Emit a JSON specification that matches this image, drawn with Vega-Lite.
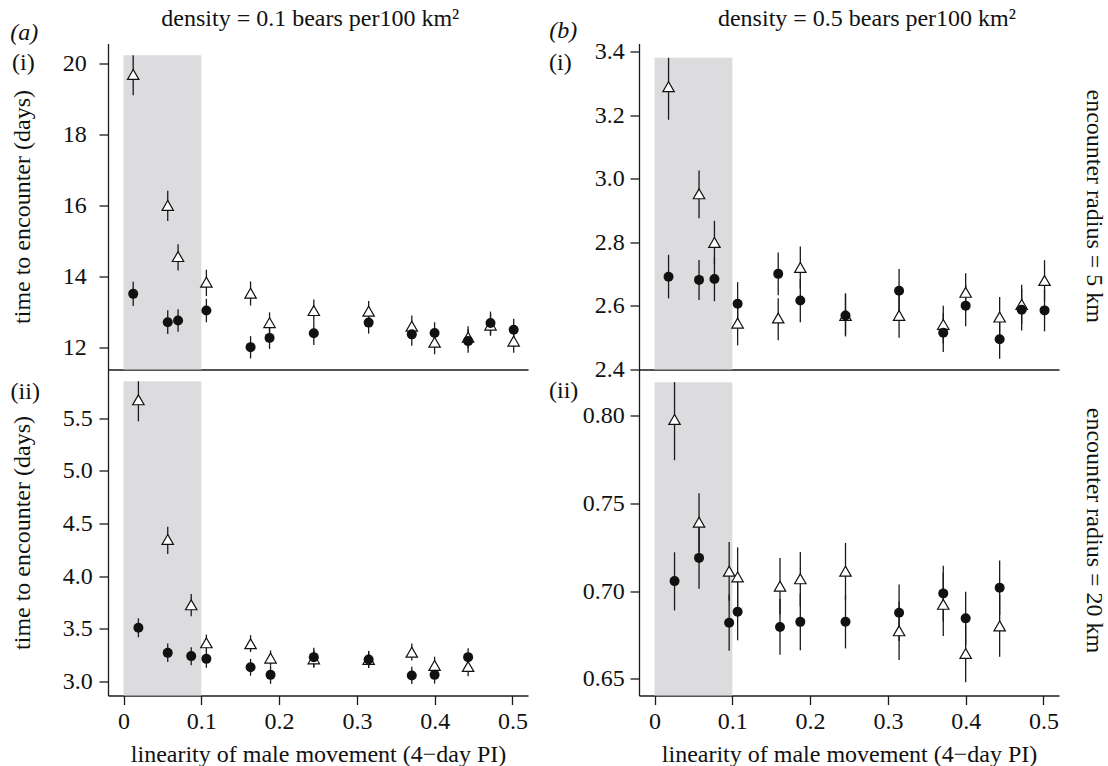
{
  "$schema": "https://vega.github.io/schema/vega-lite/v6.json",
  "padding": {"left": 10, "top": 6.5, "right": 5, "bottom": 5},
  "background": "white",
  "columns": 2,
  "spacing": {"row": 0, "column": 111},
  "bounds": "flush",
  "datasets": {
    "obs": [
      {"p":"ai","x":0.0124,"t":"T","y":19.68,"lo":19.09,"hi":20.22},
      {"p":"ai","x":0.0124,"t":"C","y":13.50,"lo":13.16,"hi":13.84},
      {"p":"ai","x":0.0568,"t":"T","y":15.99,"lo":15.55,"hi":16.40},
      {"p":"ai","x":0.0568,"t":"C","y":12.70,"lo":12.37,"hi":13.04},
      {"p":"ai","x":0.0701,"t":"T","y":14.55,"lo":14.16,"hi":14.90},
      {"p":"ai","x":0.0701,"t":"C","y":12.75,"lo":12.43,"hi":13.07},
      {"p":"ai","x":0.1065,"t":"T","y":13.83,"lo":13.44,"hi":14.18},
      {"p":"ai","x":0.1065,"t":"C","y":13.03,"lo":12.70,"hi":13.36},
      {"p":"ai","x":0.1633,"t":"T","y":13.52,"lo":13.17,"hi":13.85},
      {"p":"ai","x":0.1633,"t":"C","y":12.00,"lo":11.68,"hi":12.31},
      {"p":"ai","x":0.1877,"t":"T","y":12.69,"lo":12.40,"hi":12.98},
      {"p":"ai","x":0.1877,"t":"C","y":12.26,"lo":11.95,"hi":12.57},
      {"p":"ai","x":0.2446,"t":"T","y":13.03,"lo":12.72,"hi":13.34},
      {"p":"ai","x":0.2446,"t":"C","y":12.39,"lo":12.06,"hi":12.72},
      {"p":"ai","x":0.3151,"t":"T","y":13.01,"lo":12.72,"hi":13.30},
      {"p":"ai","x":0.3151,"t":"C","y":12.69,"lo":12.38,"hi":13.00},
      {"p":"ai","x":0.3706,"t":"T","y":12.59,"lo":12.29,"hi":12.89},
      {"p":"ai","x":0.3706,"t":"C","y":12.36,"lo":12.04,"hi":12.68},
      {"p":"ai","x":0.3999,"t":"T","y":12.14,"lo":11.80,"hi":12.47},
      {"p":"ai","x":0.3999,"t":"C","y":12.40,"lo":12.10,"hi":12.70},
      {"p":"ai","x":0.4430,"t":"T","y":12.28,"lo":11.97,"hi":12.59},
      {"p":"ai","x":0.4430,"t":"C","y":12.17,"lo":11.84,"hi":12.50},
      {"p":"ai","x":0.4718,"t":"T","y":12.62,"lo":12.32,"hi":12.92},
      {"p":"ai","x":0.4718,"t":"C","y":12.68,"lo":12.35,"hi":13.00},
      {"p":"ai","x":0.5016,"t":"T","y":12.17,"lo":11.84,"hi":12.50},
      {"p":"ai","x":0.5016,"t":"C","y":12.49,"lo":12.18,"hi":12.80},

      {"p":"aii","x":0.0191,"t":"T","y":5.674,"lo":5.47,"hi":5.85},
      {"p":"aii","x":0.0191,"t":"C","y":3.51,"lo":3.42,"hi":3.60},
      {"p":"aii","x":0.0568,"t":"T","y":4.348,"lo":4.21,"hi":4.47},
      {"p":"aii","x":0.0568,"t":"C","y":3.272,"lo":3.185,"hi":3.36},
      {"p":"aii","x":0.0870,"t":"T","y":3.728,"lo":3.62,"hi":3.83},
      {"p":"aii","x":0.0870,"t":"C","y":3.241,"lo":3.155,"hi":3.325},
      {"p":"aii","x":0.1065,"t":"T","y":3.367,"lo":3.29,"hi":3.445},
      {"p":"aii","x":0.1065,"t":"C","y":3.215,"lo":3.13,"hi":3.30},
      {"p":"aii","x":0.1633,"t":"T","y":3.358,"lo":3.28,"hi":3.44},
      {"p":"aii","x":0.1633,"t":"C","y":3.136,"lo":3.055,"hi":3.215},
      {"p":"aii","x":0.1890,"t":"T","y":3.222,"lo":3.15,"hi":3.295},
      {"p":"aii","x":0.1890,"t":"C","y":3.063,"lo":2.978,"hi":3.148},
      {"p":"aii","x":0.2446,"t":"T","y":3.215,"lo":3.13,"hi":3.30},
      {"p":"aii","x":0.2446,"t":"C","y":3.231,"lo":3.14,"hi":3.32},
      {"p":"aii","x":0.3151,"t":"T","y":3.209,"lo":3.13,"hi":3.29},
      {"p":"aii","x":0.3151,"t":"C","y":3.209,"lo":3.13,"hi":3.29},
      {"p":"aii","x":0.3706,"t":"T","y":3.278,"lo":3.20,"hi":3.36},
      {"p":"aii","x":0.3706,"t":"C","y":3.057,"lo":2.975,"hi":3.14},
      {"p":"aii","x":0.3999,"t":"T","y":3.152,"lo":3.07,"hi":3.235},
      {"p":"aii","x":0.3999,"t":"C","y":3.063,"lo":2.98,"hi":3.145},
      {"p":"aii","x":0.4430,"t":"T","y":3.142,"lo":3.05,"hi":3.23},
      {"p":"aii","x":0.4430,"t":"C","y":3.231,"lo":3.145,"hi":3.316},

      {"p":"bi","x":0.0180,"t":"T","y":3.290,"lo":3.186,"hi":3.381},
      {"p":"bi","x":0.0180,"t":"C","y":2.692,"lo":2.624,"hi":2.761},
      {"p":"bi","x":0.0572,"t":"T","y":2.953,"lo":2.876,"hi":3.026},
      {"p":"bi","x":0.0572,"t":"C","y":2.682,"lo":2.619,"hi":2.745},
      {"p":"bi","x":0.0770,"t":"T","y":2.800,"lo":2.732,"hi":2.868},
      {"p":"bi","x":0.0770,"t":"C","y":2.685,"lo":2.615,"hi":2.755},
      {"p":"bi","x":0.1068,"t":"T","y":2.546,"lo":2.476,"hi":2.616},
      {"p":"bi","x":0.1068,"t":"C","y":2.607,"lo":2.540,"hi":2.675},
      {"p":"bi","x":0.1590,"t":"T","y":2.562,"lo":2.492,"hi":2.624},
      {"p":"bi","x":0.1590,"t":"C","y":2.701,"lo":2.634,"hi":2.768},
      {"p":"bi","x":0.1874,"t":"T","y":2.721,"lo":2.655,"hi":2.787},
      {"p":"bi","x":0.1874,"t":"C","y":2.617,"lo":2.549,"hi":2.685},
      {"p":"bi","x":0.2455,"t":"T","y":2.570,"lo":2.504,"hi":2.636},
      {"p":"bi","x":0.2455,"t":"C","y":2.570,"lo":2.508,"hi":2.640},
      {"p":"bi","x":0.3144,"t":"T","y":2.570,"lo":2.500,"hi":2.640},
      {"p":"bi","x":0.3144,"t":"C","y":2.648,"lo":2.580,"hi":2.716},
      {"p":"bi","x":0.3712,"t":"T","y":2.542,"lo":2.482,"hi":2.601},
      {"p":"bi","x":0.3712,"t":"C","y":2.516,"lo":2.455,"hi":2.577},
      {"p":"bi","x":0.4000,"t":"T","y":2.643,"lo":2.583,"hi":2.703},
      {"p":"bi","x":0.4000,"t":"C","y":2.601,"lo":2.536,"hi":2.666},
      {"p":"bi","x":0.4437,"t":"T","y":2.565,"lo":2.502,"hi":2.628},
      {"p":"bi","x":0.4437,"t":"C","y":2.495,"lo":2.434,"hi":2.556},
      {"p":"bi","x":0.4720,"t":"T","y":2.605,"lo":2.543,"hi":2.667},
      {"p":"bi","x":0.4720,"t":"C","y":2.588,"lo":2.523,"hi":2.653},
      {"p":"bi","x":0.5014,"t":"T","y":2.680,"lo":2.616,"hi":2.744},
      {"p":"bi","x":0.5014,"t":"C","y":2.586,"lo":2.520,"hi":2.652},

      {"p":"bii","x":0.0257,"t":"T","y":0.7977,"lo":0.7745,"hi":0.8189},
      {"p":"bii","x":0.0257,"t":"C","y":0.7057,"lo":0.6890,"hi":0.7221},
      {"p":"bii","x":0.0572,"t":"T","y":0.7392,"lo":0.7220,"hi":0.7557},
      {"p":"bii","x":0.0572,"t":"C","y":0.7189,"lo":0.7013,"hi":0.7365},
      {"p":"bii","x":0.0959,"t":"T","y":0.7113,"lo":0.6945,"hi":0.7279},
      {"p":"bii","x":0.0959,"t":"C","y":0.6820,"lo":0.6660,"hi":0.6980},
      {"p":"bii","x":0.1068,"t":"T","y":0.7081,"lo":0.6915,"hi":0.7249},
      {"p":"bii","x":0.1068,"t":"C","y":0.6883,"lo":0.6720,"hi":0.7045},
      {"p":"bii","x":0.1613,"t":"T","y":0.7028,"lo":0.6867,"hi":0.7189},
      {"p":"bii","x":0.1613,"t":"C","y":0.6796,"lo":0.6638,"hi":0.6955},
      {"p":"bii","x":0.1874,"t":"T","y":0.7070,"lo":0.6915,"hi":0.7223},
      {"p":"bii","x":0.1874,"t":"C","y":0.6825,"lo":0.6664,"hi":0.6985},
      {"p":"bii","x":0.2455,"t":"T","y":0.7113,"lo":0.6952,"hi":0.7274},
      {"p":"bii","x":0.2455,"t":"C","y":0.6826,"lo":0.6674,"hi":0.6978},
      {"p":"bii","x":0.3144,"t":"T","y":0.6774,"lo":0.6608,"hi":0.6940},
      {"p":"bii","x":0.3144,"t":"C","y":0.6877,"lo":0.6716,"hi":0.7038},
      {"p":"bii","x":0.3712,"t":"T","y":0.6925,"lo":0.6745,"hi":0.7105},
      {"p":"bii","x":0.3712,"t":"C","y":0.6987,"lo":0.6829,"hi":0.7145},
      {"p":"bii","x":0.4000,"t":"T","y":0.6645,"lo":0.6481,"hi":0.6809},
      {"p":"bii","x":0.4000,"t":"C","y":0.6845,"lo":0.6694,"hi":0.6996},
      {"p":"bii","x":0.4437,"t":"T","y":0.6802,"lo":0.6626,"hi":0.6978},
      {"p":"bii","x":0.4437,"t":"C","y":0.7019,"lo":0.6864,"hi":0.7174}
    ]
  },
  "concat": [
    {
      "width": 420, "height": 326,
      "layer": [
        {"data": {"values": [{"k": 1}]}, "mark": {"type": "rect", "color": "#dcdcdf"},
         "encoding": {"x": {"datum": 0, "type": "quantitative", "scale": {"domain": [-0.02, 0.52], "nice": false, "zero": false}, "axis": {"title": null, "labels": false, "ticks": false}}, "x2": {"datum": 0.1}, "y": {"datum": 11.37, "type": "quantitative", "scale": {"domain": [11.37, 20.55], "nice": false, "zero": false}, "axis": {"title": "time to encounter (days)", "values": [12, 14, 16, 18, 20], "format": "d", "labelAlign": "left", "labelPadding": 36.7, "titlePadding": 27.6}}, "y2": {"datum": 20.22}}},
        {"data": {"name": "obs"}, "transform": [{"filter": "datum.p === 'ai'"}],
         "mark": {"type": "rule", "color": "#1a1a1a", "strokeWidth": 1.3},
         "encoding": {"x": {"field": "x", "type": "quantitative"}, "y": {"field": "lo", "type": "quantitative"}, "y2": {"field": "hi"}}},
        {"data": {"name": "obs"}, "transform": [{"filter": "datum.p === 'ai' && datum.t === 'T'"}],
         "mark": {"type": "point", "shape": "triangle-up", "filled": false, "fill": "white", "fillOpacity": 1, "stroke": "#111111", "strokeWidth": 1.2, "size": 130, "opacity": 1},
         "encoding": {"x": {"field": "x", "type": "quantitative"}, "y": {"field": "y", "type": "quantitative"}}},
        {"data": {"name": "obs"}, "transform": [{"filter": "datum.p === 'ai' && datum.t === 'C'"}],
         "mark": {"type": "circle", "size": 100, "color": "#111111", "opacity": 1},
         "encoding": {"x": {"field": "x", "type": "quantitative"}, "y": {"field": "y", "type": "quantitative"}}},
        {"data": {"values": [{"k": 1}]}, "mark": {"type": "text", "text": "(a)", "fontStyle": "italic", "align": "left", "baseline": "middle"},
         "encoding": {"x": {"datum": -0.1456}, "y": {"datum": 20.854}}},
        {"data": {"values": [{"k": 1}]}, "mark": {"type": "text", "text": "(i)", "align": "left", "baseline": "middle"},
         "encoding": {"x": {"datum": -0.1434}, "y": {"datum": 20.009}}},
        {"data": {"values": [{"k": 1}]}, "mark": {"type": "text", "text": "density = 0.1 bears per100 km²", "align": "center", "baseline": "alphabetic"},
         "encoding": {"x": {"datum": 0.2401}, "y": {"datum": 21.051}}}
      ]
    },
    {
      "width": 420, "height": 326,
      "layer": [
        {"data": {"values": [{"k": 1}]}, "mark": {"type": "rect", "color": "#dcdcdf"},
         "encoding": {"x": {"datum": 0, "type": "quantitative", "scale": {"domain": [-0.02, 0.52], "nice": false, "zero": false}, "axis": {"title": null, "labels": false, "ticks": false}}, "x2": {"datum": 0.1}, "y": {"datum": 2.4, "type": "quantitative", "scale": {"domain": [2.4, 3.426], "nice": false, "zero": false}, "axis": {"title": null, "values": [2.4, 2.6, 2.8, 3.0, 3.2, 3.4], "format": ".1f", "labelPadding": 5.7}}, "y2": {"datum": 3.381}}},
        {"data": {"name": "obs"}, "transform": [{"filter": "datum.p === 'bi'"}],
         "mark": {"type": "rule", "color": "#1a1a1a", "strokeWidth": 1.3},
         "encoding": {"x": {"field": "x", "type": "quantitative"}, "y": {"field": "lo", "type": "quantitative"}, "y2": {"field": "hi"}}},
        {"data": {"name": "obs"}, "transform": [{"filter": "datum.p === 'bi' && datum.t === 'T'"}],
         "mark": {"type": "point", "shape": "triangle-up", "filled": false, "fill": "white", "fillOpacity": 1, "stroke": "#111111", "strokeWidth": 1.2, "size": 130, "opacity": 1},
         "encoding": {"x": {"field": "x", "type": "quantitative"}, "y": {"field": "y", "type": "quantitative"}}},
        {"data": {"name": "obs"}, "transform": [{"filter": "datum.p === 'bi' && datum.t === 'C'"}],
         "mark": {"type": "circle", "size": 100, "color": "#111111", "opacity": 1},
         "encoding": {"x": {"field": "x", "type": "quantitative"}, "y": {"field": "y", "type": "quantitative"}}},
        {"data": {"values": [{"k": 1}]}, "mark": {"type": "text", "text": "(b)", "fontStyle": "italic", "align": "left", "baseline": "middle"},
         "encoding": {"x": {"datum": -0.1353}, "y": {"datum": 3.4653}}},
        {"data": {"values": [{"k": 1}]}, "mark": {"type": "text", "text": "(i)", "align": "left", "baseline": "middle"},
         "encoding": {"x": {"datum": -0.1357}, "y": {"datum": 3.3656}}},
        {"data": {"values": [{"k": 1}]}, "mark": {"type": "text", "text": "density = 0.5 bears per100 km²", "align": "center", "baseline": "alphabetic"},
         "encoding": {"x": {"datum": 0.2731}, "y": {"datum": 3.482}}},
        {"data": {"values": [{"k": 1}]}, "mark": {"type": "text", "text": "encounter radius = 5 km", "align": "center", "baseline": "middle", "angle": 90},
         "encoding": {"x": {"datum": 0.565}, "y": {"datum": 2.9139}}}
      ]
    },
    {
      "width": 420, "height": 326,
      "layer": [
        {"data": {"values": [{"k": 1}]}, "mark": {"type": "rect", "color": "#dcdcdf"},
         "encoding": {"x": {"datum": 0, "type": "quantitative", "scale": {"domain": [-0.02, 0.52], "nice": false, "zero": false}, "axis": {"title": "linearity of male movement (4−day PI)", "values": [0, 0.1, 0.2, 0.3, 0.4, 0.5], "format": "~g", "labelPadding": 5, "titlePadding": 9}}, "x2": {"datum": 0.1}, "y": {"datum": 2.867, "type": "quantitative", "scale": {"domain": [2.867, 5.962], "nice": false, "zero": false}, "axis": {"title": "time to encounter (days)", "values": [3, 3.5, 4, 4.5, 5, 5.5], "format": ".1f", "labelAlign": "left", "labelPadding": 36.7, "titlePadding": 27.6}}, "y2": {"datum": 5.85}}},
        {"data": {"name": "obs"}, "transform": [{"filter": "datum.p === 'aii'"}],
         "mark": {"type": "rule", "color": "#1a1a1a", "strokeWidth": 1.3},
         "encoding": {"x": {"field": "x", "type": "quantitative"}, "y": {"field": "lo", "type": "quantitative"}, "y2": {"field": "hi"}}},
        {"data": {"name": "obs"}, "transform": [{"filter": "datum.p === 'aii' && datum.t === 'T'"}],
         "mark": {"type": "point", "shape": "triangle-up", "filled": false, "fill": "white", "fillOpacity": 1, "stroke": "#111111", "strokeWidth": 1.2, "size": 130, "opacity": 1},
         "encoding": {"x": {"field": "x", "type": "quantitative"}, "y": {"field": "y", "type": "quantitative"}}},
        {"data": {"name": "obs"}, "transform": [{"filter": "datum.p === 'aii' && datum.t === 'C'"}],
         "mark": {"type": "circle", "size": 100, "color": "#111111", "opacity": 1},
         "encoding": {"x": {"field": "x", "type": "quantitative"}, "y": {"field": "y", "type": "quantitative"}}},
        {"data": {"values": [{"k": 1}]}, "mark": {"type": "text", "text": "(ii)", "align": "left", "baseline": "middle"},
         "encoding": {"x": {"datum": -0.1452}, "y": {"datum": 5.744}}}
      ]
    },
    {
      "width": 420, "height": 326,
      "layer": [
        {"data": {"values": [{"k": 1}]}, "mark": {"type": "rect", "color": "#dcdcdf"},
         "encoding": {"x": {"datum": 0, "type": "quantitative", "scale": {"domain": [-0.02, 0.52], "nice": false, "zero": false}, "axis": {"title": "linearity of male movement (4−day PI)", "values": [0, 0.1, 0.2, 0.3, 0.4, 0.5], "format": "~g", "labelPadding": 5, "titlePadding": 9}}, "x2": {"datum": 0.1}, "y": {"datum": 0.6406, "type": "quantitative", "scale": {"domain": [0.6406, 0.8261], "nice": false, "zero": false}, "axis": {"title": null, "values": [0.65, 0.7, 0.75, 0.8], "format": ".2f", "labelPadding": 5.7}}, "y2": {"datum": 0.8189}}},
        {"data": {"name": "obs"}, "transform": [{"filter": "datum.p === 'bii'"}],
         "mark": {"type": "rule", "color": "#1a1a1a", "strokeWidth": 1.3},
         "encoding": {"x": {"field": "x", "type": "quantitative"}, "y": {"field": "lo", "type": "quantitative"}, "y2": {"field": "hi"}}},
        {"data": {"name": "obs"}, "transform": [{"filter": "datum.p === 'bii' && datum.t === 'T'"}],
         "mark": {"type": "point", "shape": "triangle-up", "filled": false, "fill": "white", "fillOpacity": 1, "stroke": "#111111", "strokeWidth": 1.2, "size": 130, "opacity": 1},
         "encoding": {"x": {"field": "x", "type": "quantitative"}, "y": {"field": "y", "type": "quantitative"}}},
        {"data": {"name": "obs"}, "transform": [{"filter": "datum.p === 'bii' && datum.t === 'C'"}],
         "mark": {"type": "circle", "size": 100, "color": "#111111", "opacity": 1},
         "encoding": {"x": {"field": "x", "type": "quantitative"}, "y": {"field": "y", "type": "quantitative"}}},
        {"data": {"values": [{"k": 1}]}, "mark": {"type": "text", "text": "(ii)", "align": "left", "baseline": "middle"},
         "encoding": {"x": {"datum": -0.1357}, "y": {"datum": 0.8141}}},
        {"data": {"values": [{"k": 1}]}, "mark": {"type": "text", "text": "encounter radius = 20 km", "align": "center", "baseline": "middle", "angle": 90},
         "encoding": {"x": {"datum": 0.565}, "y": {"datum": 0.7345}}}
      ]
    }
  ],
  "config": {
    "view": {"stroke": null},
    "font": "Liberation Serif",
    "text": {"font": "Liberation Serif", "fontSize": 24, "color": "#111111"},
    "axis": {
      "grid": false,
      "domainColor": "#1a1a1a", "domainWidth": 1.3,
      "tickColor": "#1a1a1a", "tickWidth": 1.3, "tickSize": 9,
      "labelFont": "Liberation Serif", "labelFontSize": 24, "labelColor": "#111111",
      "titleFont": "Liberation Serif", "titleFontSize": 24, "titleFontWeight": "normal", "titleColor": "#111111",
      "labelOverlap": false, "labelFlush": false, "labelBound": false
    }
  }
}
